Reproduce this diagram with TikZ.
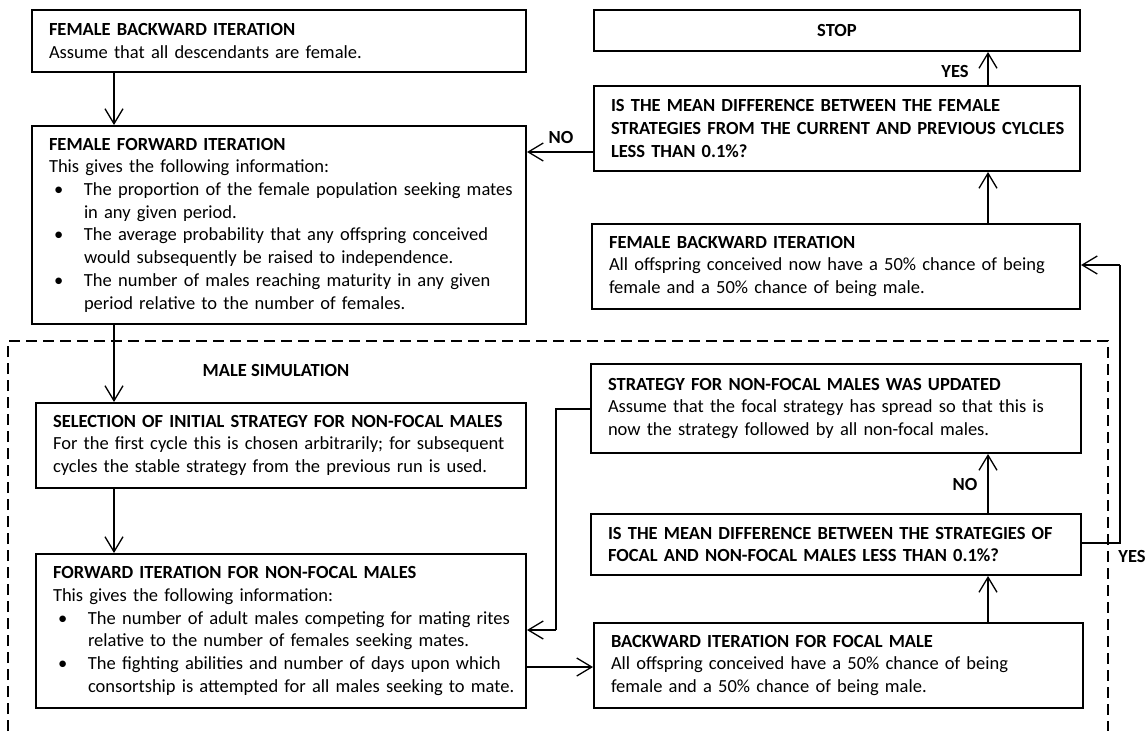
\documentclass[tikz,border=0pt]{standalone}
\usepackage{fontspec}
\setmainfont{Carlito}
\usetikzlibrary{arrows.meta}

\newcommand{\bodysize}{\fontsize{18.5}{22.7}\selectfont}
% one unbreakable line of text
\newcommand{\nb}[1]{\mbox{#1}}
% bullet line and its hanging continuation
\newcommand{\bl}[1]{\mbox{\makebox[35pt][l]{\hspace{5pt}\textbullet}#1}}
\newcommand{\ind}[1]{\mbox{\hspace*{35pt}#1}}

\tikzset{
  box/.style={draw, line width=2pt, anchor=north west, inner xsep=17pt,
    inner ysep=0pt, align=left, font=\bodysize},
  arr/.style={line width=1.3pt, -{Straight Barb[length=15pt,width=18pt,line width=1.3pt]}},
  link/.style={line width=1.3pt},
  lbl/.style={font=\bodysize\bfseries, inner sep=0pt},
  frame/.style={line width=1.6pt, dash pattern=on 11pt off 6pt}
}

\begin{document}
\begin{tikzpicture}[x=1pt,y=-1pt]
\useasboundingbox (0,0) rectangle (1145,731);

% ---------- female part ----------
\node[box, text width=460pt, minimum height=62pt] (A) at (31,9)
  {\nb{\textbf{FEMALE BACKWARD ITERATION}}\\
   \nb{Assume that all descendants are female.}};

\node[box, text width=460pt, minimum height=198pt] (B) at (31,125)
  {\nb{\textbf{FEMALE FORWARD ITERATION}}\\
   \nb{This gives the following information:}\\
   \bl{The proportion of the female population seeking mates}\\
   \ind{in any given period.}\\
   \bl{The average probability that any offspring conceived}\\
   \ind{would subsequently be raised to independence.}\\
   \bl{The number of males reaching maturity in any given}\\
   \ind{period relative to the number of females.}};

\node[box, align=center, text width=452pt, minimum height=41pt] (Stop) at (593,9)
  {\textbf{STOP}};

\node[box, text width=452pt, minimum height=85pt] (Q1) at (593,85)
  {\nb{\textbf{IS THE MEAN DIFFERENCE BETWEEN THE FEMALE}}\\
   \nb{\textbf{STRATEGIES FROM THE CURRENT AND PREVIOUS CYLCLES}}\\
   \nb{\textbf{LESS THAN 0.1\%?}}};

\node[box, text width=454pt, minimum height=85pt] (FB2) at (591,223)
  {\nb{\textbf{FEMALE BACKWARD ITERATION}}\\
   \nb{All offspring conceived now have a 50\% chance of being}\\
   \nb{female and a 50\% chance of being male.}};

% ---------- male simulation ----------
\draw[frame] (8,731) -- (8,341) -- (1108,341) -- (1108,731);
\node[lbl] (MS) at (276,370) {MALE SIMULATION};

\node[box, text width=456pt, minimum height=85pt] (Sel) at (35,402)
  {\nb{\textbf{SELECTION OF INITIAL STRATEGY FOR NON-FOCAL MALES}}\\
   \nb{For the first cycle this is chosen arbitrarily; for subsequent}\\
   \nb{cycles the stable strategy from the previous run is used.}};

\node[box, text width=456pt, minimum height=154pt] (Fwd) at (35,553)
  {\nb{\textbf{FORWARD ITERATION FOR NON-FOCAL MALES}}\\
   \nb{This gives the following information:}\\
   \bl{The number of adult males competing for mating rites}\\
   \ind{relative to the number of females seeking mates.}\\
   \bl{The fighting abilities and number of days upon which}\\
   \ind{consortship is attempted for all males seeking to mate.}};

\node[box, text width=456pt, minimum height=89pt] (SU) at (590,363)
  {\nb{\textbf{STRATEGY FOR NON-FOCAL MALES WAS UPDATED}}\\
   \nb{Assume that the focal strategy has spread so that this is}\\
   \nb{now the strategy followed by all non-focal males.}};

\node[box, text width=456pt, minimum height=61pt] (Q2) at (590,513)
  {\nb{\textbf{IS THE MEAN DIFFERENCE BETWEEN THE STRATEGIES OF}}\\
   \nb{\textbf{FOCAL AND NON-FOCAL MALES LESS THAN 0.1\%?}}};

\node[box, text width=455pt, minimum height=85pt] (BF) at (593,622)
  {\nb{\textbf{BACKWARD ITERATION FOR FOCAL MALE}}\\
   \nb{All offspring conceived have a 50\% chance of being}\\
   \nb{female and a 50\% chance of being male.}};

% ---------- guide coordinates for the connectors ----------
\coordinate (xl) at (114,0);
\coordinate (xr) at (988,0);
\coordinate (xv) at (556,0);
\coordinate (xw) at (1120,0);
\coordinate (yno) at (0,152);
\coordinate (ysu) at (0,409);
\coordinate (yin) at (0,630);
\coordinate (yout) at (0,667);
\coordinate (yq) at (0,543);
\coordinate (yfb) at (0,265);

% ---------- connectors ----------
\draw[arr] (xl |- A.south) -- (xl |- B.north);
\draw[arr] (xl |- B.south) -- (xl |- Sel.north);
\draw[arr] (xl |- Sel.south) -- (xl |- Fwd.north);

\draw[arr] (xr |- Q1.north) -- (xr |- Stop.south);
\node[lbl] (yes1) at (955,71) {YES};
\draw[arr] (xr |- FB2.north) -- (xr |- Q1.south);
\draw[arr] (Q1.west |- yno) -- (B.east |- yno);
\node[lbl] (no1) at (561,137) {NO};

\draw[arr] (Fwd.east |- yout) -- (BF.west |- yout);
\draw[arr] (xr |- BF.north) -- (xr |- Q2.south);
\draw[arr] (xr |- Q2.north) -- (xr |- SU.south);
\node[lbl] (no2) at (965,484) {NO};

\draw[link] (SU.west |- ysu) -| (xv |- yin);
\draw[arr] (xv |- yin) -- (Fwd.east |- yin);

\draw[link] (Q2.east |- yq) -| (xw |- yfb);
\draw[arr] (xw |- yfb) -- (FB2.east |- yfb);
\node[lbl] (yes2) at (1132,556) {YES};
\end{tikzpicture}
\end{document}
